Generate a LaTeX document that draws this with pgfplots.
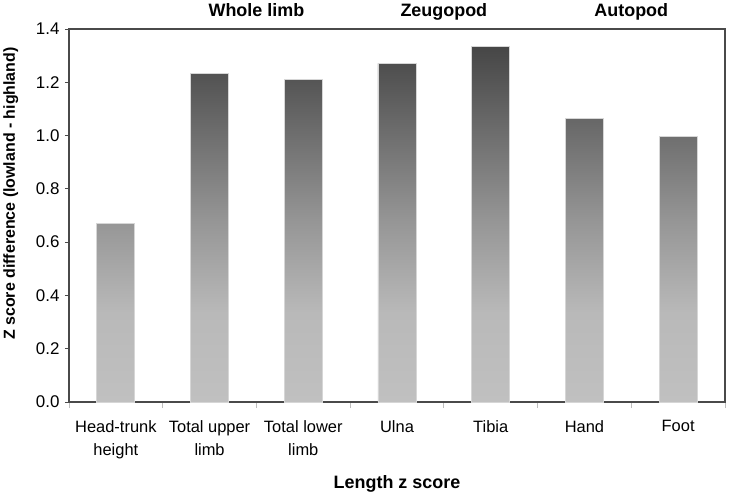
\documentclass[border=0pt]{standalone}
\usepackage{pgfplots}
\pgfplotsset{compat=1.18}
\usepackage{fontspec}
\setmainfont{Liberation Sans}
\definecolor{axgray}{HTML}{4A4A4A}
\definecolor{tickgray}{HTML}{BDBDBD}
\definecolor{bedge}{HTML}{D6D6D6}
\definecolor{shbot}{HTML}{C0C0C0}
\definecolor{shlow}{HTML}{B9B9B9}
\definecolor{shmid}{HTML}{979797}
\definecolor{shtop}{HTML}{464646}
\pgfdeclareverticalshading{barshade}{100bp}{%
  color(0bp)=(shbot); color(25bp)=(shbot); color(37.5bp)=(shlow); color(50bp)=(shmid); color(75bp)=(shtop); color(100bp)=(shtop)}
\begin{document}
\begin{tikzpicture}[x=1bp,y=1bp]
\begin{axis}[
  at={(0,0)}, anchor=south west,
  scale only axis, width=656bp, height=373bp,
  xmin=-0.5, xmax=6.5, ymin=0, ymax=1.4,
  clip=false,
  axis line style={draw=axgray, line width=1.3bp},
  xtick={0,1,2,3,4,5,6},
  xticklabels={{Head-trunk\\height},{Total upper\\limb},{Total lower\\limb},Ulna,Tibia,Hand,Foot},
  major x tick style={draw=none},
  minor xtick={-0.5,0.5,1.5,2.5,3.5,4.5,5.5,6.5},
  minor x tick style={draw=tickgray, line width=0.8bp},
  minor tick length=6bp,
  xtick pos=bottom, ytick pos=left,
  tick align=outside,
  ytick={0,0.2,0.4,0.6,0.8,1.0,1.2,1.4},
  major y tick style={draw=axgray, line width=0.8bp},
  major tick length=4bp,
  yticklabel style={/pgf/number format/fixed, /pgf/number format/precision=1, /pgf/number format/fixed zerofill, font=\fontsize{17}{20}\selectfont, xshift=-2bp},
  /pgf/number format/assume math mode=true,
  xticklabel style={align=center, font=\fontsize{16.5}{23}\selectfont, anchor=north, yshift=-11bp},
]
\addplot[ybar, bar width=38bp, bar shift=0pt, draw=bedge, line width=0.8bp, shading=barshade]
  coordinates {(0,0.67) (1,1.232) (2,1.209) (3,1.271) (4,1.335) (5,1.065) (6,0.996)};
\node[anchor=base, font=\bfseries\fontsize{18}{21}\selectfont] at (axis cs:1.5,1.4) [yshift=12bp] {Whole limb};
\node[anchor=base, font=\bfseries\fontsize{18}{21}\selectfont] at (axis cs:3.5,1.4) [yshift=12bp] {Zeugopod};
\node[anchor=base, font=\bfseries\fontsize{18}{21}\selectfont] at (axis cs:5.5,1.4) [yshift=12bp] {Autopod};
\end{axis}
\node[anchor=base, font=\bfseries\fontsize{18}{21}\selectfont] at (328bp,-86bp) {Length z score};
\node[anchor=base, rotate=90, font=\bfseries\fontsize{16}{19}\selectfont] at (-54bp,208.5bp) {Z score difference (lowland - highland)};
\pgfresetboundingbox
\useasboundingbox (-69bp,-94bp) rectangle (661bp,402bp);
\end{tikzpicture}
\end{document}
